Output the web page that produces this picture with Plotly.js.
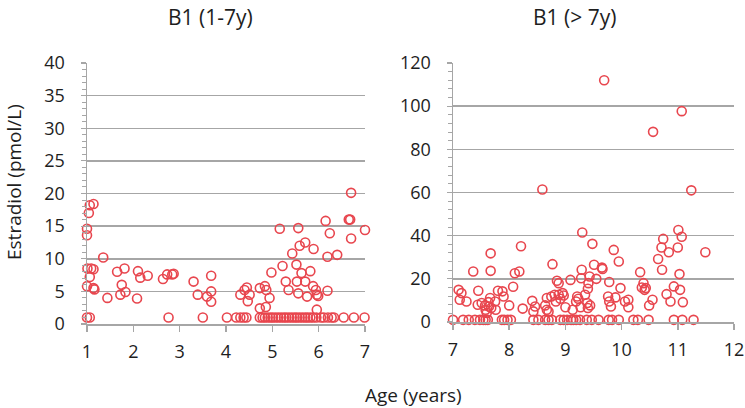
<!DOCTYPE html>
<html>
<head>
<meta charset="utf-8">
<script src="https://cdn.plot.ly/plotly-3.0.1.min.js"></script>
<style>html,body{margin:0;padding:0;background:#fff}#chart{width:745px;height:408px}</style>
</head>
<body>
<div id="chart"></div>
<script>
// Panel titles and axis titles
var panelTitles = ["B1 (1-7y)", "B1 (> 7y)"];
var yTitle = "Estradiol (pmol/L)";
var xTitle = "Age (years)";

// B1, ages 1-7 years
var ageYoung = [1.0,1.06,1.0,1.0,1.04,1.06,1.14,1.01,1.09,1.14,1.06,1.0,1.14,1.16,1.35,1.44,1.65,1.81,1.75,1.72,1.83,
  2.1,2.15,2.31,2.08,2.64,2.73,2.84,2.87,2.76,3.30,3.39,3.59,3.68,3.68,3.68,3.50,
  4.31,4.40,4.45,4.47,4.51,4.73,4.73,4.84,4.86,4.87,4.94,4.98,5.16,5.22,5.29,5.35,5.43,5.52,5.53,5.56,5.56,5.59,
  5.71,5.89,5.63,5.71,5.75,5.82,5.88,5.94,5.96,5.99,5.96,6.15,6.19,6.24,6.19,6.40,6.65,6.68,6.70,6.70,7.0,
  4.02,4.22,4.31,4.38,4.44,4.73,4.79,4.84,4.90,4.96,5.01,5.07,5.13,5.19,5.25,5.30,5.36,5.42,5.48,5.53,5.59,
  5.65,5.71,5.76,5.82,5.88,5.95,6.05,6.11,6.20,6.28,6.33,6.54,6.76,6.99];
var e2Young = [1.0,1.0,14.6,13.6,17.0,18.2,18.4,8.5,8.5,8.4,7.2,5.8,5.5,5.3,10.2,4.0,8.0,8.5,6.0,4.5,4.9,
  8.1,7.1,7.4,3.9,6.9,7.6,7.6,7.7,1.0,6.5,4.5,4.2,7.4,5.0,3.4,1.0,
  4.5,5.2,5.6,3.5,4.5,5.5,2.4,5.8,2.6,5.2,4.0,7.9,14.6,8.9,6.5,5.2,10.8,9.1,6.5,4.7,14.7,12.0,
  12.5,11.5,7.8,6.5,4.2,8.1,5.8,5.2,4.5,4.3,2.2,15.8,10.3,13.9,5.1,10.6,16.0,16.0,13.1,20.1,14.4,
  1,1,1,1,1,1,1,1,1,1,1,1,1,1,1,1,1,1,1,1,1,
  1,1,1,1,1,1,1,1,1,1,1,1,1,1];

// B1, ages over 7 years
var ageOld = [9.69,10.56,11.07,8.59,11.24,
  7.10,7.15,7.12,7.24,7.36,7.45,7.44,7.51,7.57,7.58,7.60,7.63,7.64,7.66,7.68,7.67,7.67,
  7.76,7.75,7.80,7.88,7.90,8.00,8.07,8.10,8.18,8.21,8.24,8.41,8.46,8.43,
  8.64,8.67,8.70,8.67,8.75,8.77,8.81,8.83,8.88,8.85,8.88,8.91,8.95,8.97,9.00,9.09,
  9.13,9.19,9.21,9.23,9.27,9.29,9.28,9.30,9.35,9.40,9.41,9.39,9.40,9.44,9.43,9.48,9.51,9.55,9.65,9.66,
  9.78,9.76,9.78,9.81,9.89,9.86,9.95,9.98,10.06,10.12,10.12,10.33,10.36,10.39,10.41,10.43,10.49,10.55,
  10.65,10.72,10.71,10.74,10.80,10.84,10.87,10.93,11.00,11.01,11.03,11.04,11.07,11.09,11.49,
  7.0,7.18,7.28,7.39,7.48,7.54,7.58,7.62,7.87,7.91,7.97,8.03,8.43,8.52,8.64,8.70,8.76,8.91,8.97,9.03,
  9.10,9.14,9.19,9.26,9.38,9.47,9.59,9.77,9.83,9.95,10.21,10.29,10.48,10.93,11.08,11.28];
var e2Old = [112,88.1,97.7,61.4,61,
  14.9,13.4,10.3,9.5,23.4,14.5,8.0,8.8,7.7,5.7,4.2,9.2,7.2,11.1,6.5,31.8,23.7,
  5.7,9.5,14.5,14.2,11.8,7.7,16.3,22.6,23.4,35.1,6.2,9.8,7.2,4.9,
  7.7,5.7,4.9,11.1,11.8,26.8,12.6,9.5,12.6,19.1,18.0,10.8,13.4,12.3,6.8,19.5,
  5.7,9.5,11.8,10.8,6.8,24.2,20.3,41.5,12.6,15.4,18.0,8.8,6.5,7.7,21.1,36.2,26.5,20.0,25.2,24.6,
  18.5,11.8,9.5,7.2,11.4,33.4,28.0,15.7,9.5,10.3,6.8,23.1,16.0,18.0,14.9,15.7,7.7,10.3,
  29.2,24.2,34.5,38.5,12.9,32.3,9.5,16.5,34.5,42.6,22.2,14.9,39.5,9.2,32.3,
  1,1,1,1,1,1,1,1,1,1,1,1,1,1,1,1,1,1,1,1,
  1,1,1,1,1,1,1,1,1,1,1,1,1,1,1,1];

var red = '#e8464e';
var grid = '#a6a6a6';
var txt = '#1e1e1e';
var fnt = 'Open Sans, Liberation Sans, sans-serif';

var marker = {symbol:'circle-open', size:9, color:red, line:{color:red, width:1.6}};

var traces = [
  {x:ageYoung, y:e2Young, type:'scatter', mode:'markers', marker:marker, xaxis:'x', yaxis:'y', cliponaxis:false, hoverinfo:'x+y'},
  {x:ageOld, y:e2Old, type:'scatter', mode:'markers', marker:marker, xaxis:'x2', yaxis:'y2', cliponaxis:false, hoverinfo:'x+y'}
];

function xax(domain, range, anchor){
  return {domain:domain, range:range, anchor:anchor, dtick:1, tick0:range[0],
    showgrid:false, zeroline:false, showline:true, linecolor:grid, linewidth:1.5,
    ticks:'outside', ticklen:6, tickwidth:1.5, tickcolor:grid, ticklabelstandoff:5,
    tickfont:{family:fnt, size:18, color:txt}, fixedrange:true};
}
function yax(domain, range, dtick, minorDtick, anchor){
  return {domain:domain, range:range, anchor:anchor, dtick:dtick, tick0:0,
    showgrid:true, gridcolor:grid, gridwidth:1.5, zeroline:false,
    showline:true, linecolor:grid, linewidth:1.5,
    ticks:'outside', ticklen:5, tickwidth:1.2, tickcolor:grid, ticklabelstandoff:12,
    minor:{dtick:minorDtick, tick0:0, ticks:'outside', ticklen:4, tickwidth:1, tickcolor:grid, showgrid:false},
    tickfont:{family:fnt, size:18, color:txt}, fixedrange:true};
}

var layout = {
  width:745, height:408,
  margin:{l:0, r:0, t:0, b:0},
  paper_bgcolor:'#ffffff', plot_bgcolor:'#ffffff',
  showlegend:false,
  xaxis: xax([87/745, 365/745], [1,7], 'y'),
  yaxis: yax([1-324/408, 1-63/408], [0,40], 5, 1, 'x'),
  xaxis2: xax([453/745, 734/745], [7,12], 'y2'),
  yaxis2: yax([1-322/408, 1-63/408], [0,120], 20, 4, 'x2'),
  annotations:[
    {text:panelTitles[0], xref:'paper', yref:'paper', x:210/745, y:1-17/408, xanchor:'center', yanchor:'middle', showarrow:false, font:{family:fnt, size:21, color:txt}},
    {text:panelTitles[1], xref:'paper', yref:'paper', x:574/745, y:1-17/408, xanchor:'center', yanchor:'middle', showarrow:false, font:{family:fnt, size:21, color:txt}},
    {text:yTitle, xref:'paper', yref:'paper', x:14/745, y:1-182/408, xanchor:'center', yanchor:'middle', textangle:-90, showarrow:false, font:{family:fnt, size:19, color:txt}},
    {text:xTitle, xref:'paper', yref:'paper', x:413/745, y:1-395/408, xanchor:'center', yanchor:'middle', showarrow:false, font:{family:fnt, size:19, color:txt}}
  ]
};

Plotly.newPlot('chart', traces, layout, {displayModeBar:false, staticPlot:true});
</script>
</body>
</html>
